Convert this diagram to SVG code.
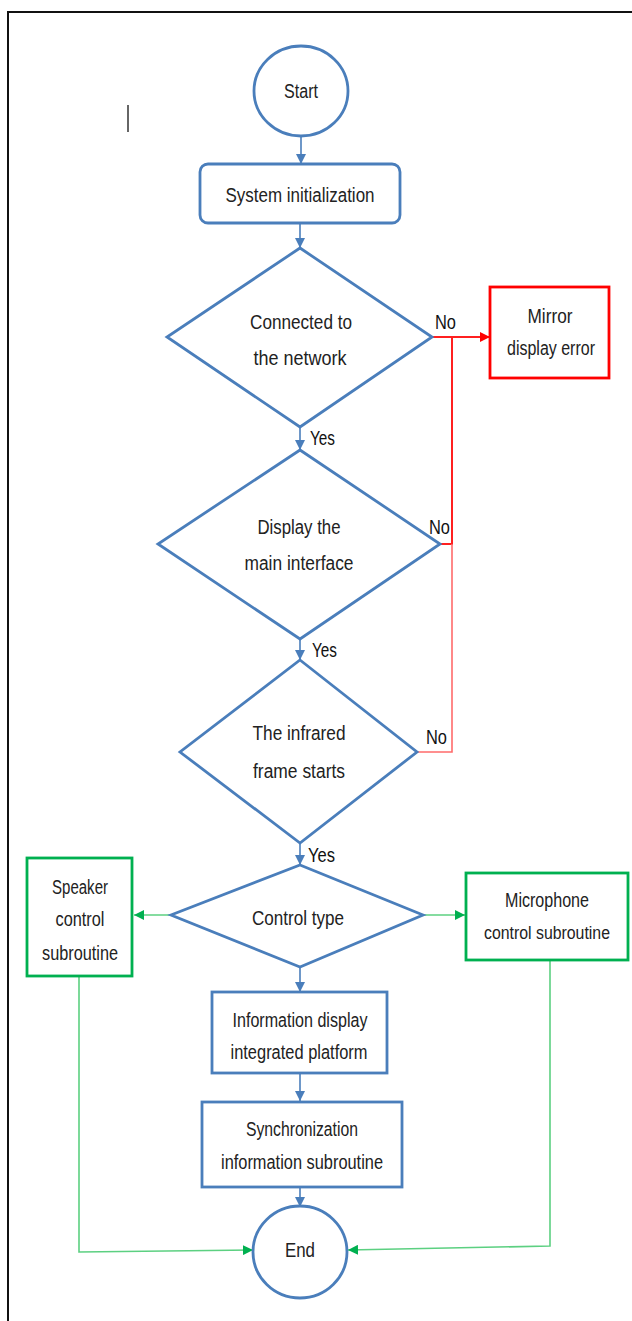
<svg xmlns="http://www.w3.org/2000/svg" width="632" height="1321" viewBox="0 0 632 1321">
<defs>
<style>
.t{font-family:"Liberation Sans",Arial,sans-serif;font-size:20px;fill:#222;text-anchor:middle;dominant-baseline:central}
.lb{font-family:"Liberation Sans",Arial,sans-serif;font-size:20px;fill:#111;dominant-baseline:central}
.bs{fill:#fff;stroke:#4a7ebb;stroke-width:2.8}
.gs{fill:#fff;stroke:#00b050;stroke-width:2.8}
.rs{fill:#fff;stroke:#ff0000;stroke-width:2.8}
.bc{fill:none;stroke:#4a7ebb;stroke-width:1.6}
.gc{fill:none;stroke:#5cd081;stroke-width:1.6}
.rc{fill:none;stroke:#ff2020;stroke-width:2}
.rl{fill:none;stroke:#ff6b6b;stroke-width:1.6}
</style>
<marker id="ab" viewBox="0 0 10 10" refX="10" refY="5" markerWidth="10" markerHeight="10" markerUnits="userSpaceOnUse" orient="auto"><path d="M0,0 L10,5 L0,10 z" fill="#4a7ebb"/></marker>
<marker id="ag" viewBox="0 0 10 10" refX="10" refY="5" markerWidth="10" markerHeight="10" markerUnits="userSpaceOnUse" orient="auto"><path d="M0,0 L10,5 L0,10 z" fill="#00b050"/></marker>
<marker id="ar" viewBox="0 0 10 10" refX="10" refY="5" markerWidth="10" markerHeight="10" markerUnits="userSpaceOnUse" orient="auto"><path d="M0,0 L10,5 L0,10 z" fill="#ff0000"/></marker>
</defs>
<rect width="632" height="1321" fill="#fff"/>
<path d="M8,1321 L8,12 L632,12" fill="none" stroke="#111" stroke-width="2"/>
<line x1="128" y1="105" x2="128" y2="132" stroke="#333" stroke-width="1.5"/>

<g id="connectors">
<line class="bc" x1="301" y1="137" x2="301" y2="164" marker-end="url(#ab)"/>
<line class="bc" x1="300" y1="223" x2="300" y2="248" marker-end="url(#ab)"/>
<line class="bc" x1="300" y1="427" x2="300" y2="450" marker-end="url(#ab)"/>
<line class="bc" x1="300" y1="639" x2="300" y2="660" marker-end="url(#ab)"/>
<line class="bc" x1="300" y1="843" x2="300" y2="865" marker-end="url(#ab)"/>
<line class="bc" x1="300" y1="967" x2="300" y2="992" marker-end="url(#ab)"/>
<line class="bc" x1="300" y1="1073" x2="300" y2="1101" marker-end="url(#ab)"/>
<line class="bc" x1="300" y1="1187" x2="300" y2="1207" marker-end="url(#ab)"/>
<line class="rc" x1="432" y1="337" x2="490" y2="337" marker-end="url(#ar)"/>
<path class="rc" d="M452,337 L452,544 L440,544"/>
<path class="rl" d="M452,544 L452,752 L417,752"/>
<line class="gc" x1="171" y1="915" x2="134" y2="915" marker-end="url(#ag)"/>
<line class="gc" x1="423" y1="915" x2="465" y2="915" marker-end="url(#ag)"/>
<path class="gc" d="M79,976 L79,1252 L253,1250" marker-end="url(#ag)"/>
<path class="gc" d="M550,960 L550,1246 L348,1250" marker-end="url(#ag)"/>
<text class="lb" x="435" y="322" textLength="21" lengthAdjust="spacingAndGlyphs">No</text>
<text class="lb" x="429" y="527" textLength="21" lengthAdjust="spacingAndGlyphs">No</text>
<text class="lb" x="426" y="737" textLength="21" lengthAdjust="spacingAndGlyphs">No</text>
<text class="lb" x="310" y="438" textLength="25" lengthAdjust="spacingAndGlyphs">Yes</text>
<text class="lb" x="312" y="650" textLength="25" lengthAdjust="spacingAndGlyphs">Yes</text>
<text class="lb" x="308" y="855" textLength="27" lengthAdjust="spacingAndGlyphs">Yes</text>
</g>

<g id="start">
<ellipse class="bs" cx="301" cy="91" rx="47" ry="45"/>
<text class="t" x="301" y="91" textLength="34" lengthAdjust="spacingAndGlyphs">Start</text>
</g>
<g id="init">
<rect class="bs" x="200" y="164" width="200" height="59" rx="8"/>
<text class="t" x="300" y="195" textLength="149" lengthAdjust="spacingAndGlyphs">System initialization</text>
</g>
<g id="network">
<polygon class="bs" points="300,248 432,337 300,427 167,337"/>
<text class="t" x="301" y="322" textLength="102" lengthAdjust="spacingAndGlyphs">Connected to</text>
<text class="t" x="300" y="358" textLength="93" lengthAdjust="spacingAndGlyphs">the network</text>
</g>
<g id="mirror">
<rect class="rs" x="490" y="287" width="119" height="91"/>
<text class="t" x="550" y="316" textLength="45" lengthAdjust="spacingAndGlyphs">Mirror</text>
<text class="t" x="551" y="348" textLength="88" lengthAdjust="spacingAndGlyphs">display error</text>
</g>
<g id="main">
<polygon class="bs" points="300,450 440,544 300,639 158,544"/>
<text class="t" x="299" y="527" textLength="83" lengthAdjust="spacingAndGlyphs">Display the</text>
<text class="t" x="299" y="563" textLength="109" lengthAdjust="spacingAndGlyphs">main interface</text>
</g>
<g id="infrared">
<polygon class="bs" points="300,660 417,752 300,843 180,752"/>
<text class="t" x="299" y="733" textLength="93" lengthAdjust="spacingAndGlyphs">The infrared</text>
<text class="t" x="299" y="771" textLength="92" lengthAdjust="spacingAndGlyphs">frame starts</text>
</g>
<g id="control">
<polygon class="bs" points="300,865 423,915 300,967 171,915"/>
<text class="t" x="298" y="918" textLength="92" lengthAdjust="spacingAndGlyphs">Control type</text>
</g>
<g id="speaker">
<rect class="gs" x="27" y="858" width="105" height="118"/>
<text class="t" x="80" y="887" textLength="56" lengthAdjust="spacingAndGlyphs">Speaker</text>
<text class="t" x="80" y="919" textLength="49" lengthAdjust="spacingAndGlyphs">control</text>
<text class="t" x="80" y="953" textLength="76" lengthAdjust="spacingAndGlyphs">subroutine</text>
</g>
<g id="microphone">
<rect class="gs" x="466" y="873" width="162" height="87"/>
<text class="t" x="547" y="900" textLength="84" lengthAdjust="spacingAndGlyphs">Microphone</text>
<text class="t" x="547" y="933" style="font-size:18px" textLength="126" lengthAdjust="spacingAndGlyphs">control subroutine</text>
</g>
<g id="info">
<rect class="bs" x="212" y="992" width="175" height="81"/>
<text class="t" x="300" y="1020" textLength="135" lengthAdjust="spacingAndGlyphs">Information display</text>
<text class="t" x="299" y="1052" textLength="137" lengthAdjust="spacingAndGlyphs">integrated platform</text>
</g>
<g id="sync">
<rect class="bs" x="202" y="1102" width="200" height="85"/>
<text class="t" x="302" y="1129" textLength="112" lengthAdjust="spacingAndGlyphs">Synchronization</text>
<text class="t" x="302" y="1162" textLength="162" lengthAdjust="spacingAndGlyphs">information subroutine</text>
</g>
<g id="end">
<ellipse class="bs" cx="300" cy="1252" rx="47" ry="46"/>
<text class="t" x="300" y="1250" textLength="30" lengthAdjust="spacingAndGlyphs">End</text>
</g>
</svg>
